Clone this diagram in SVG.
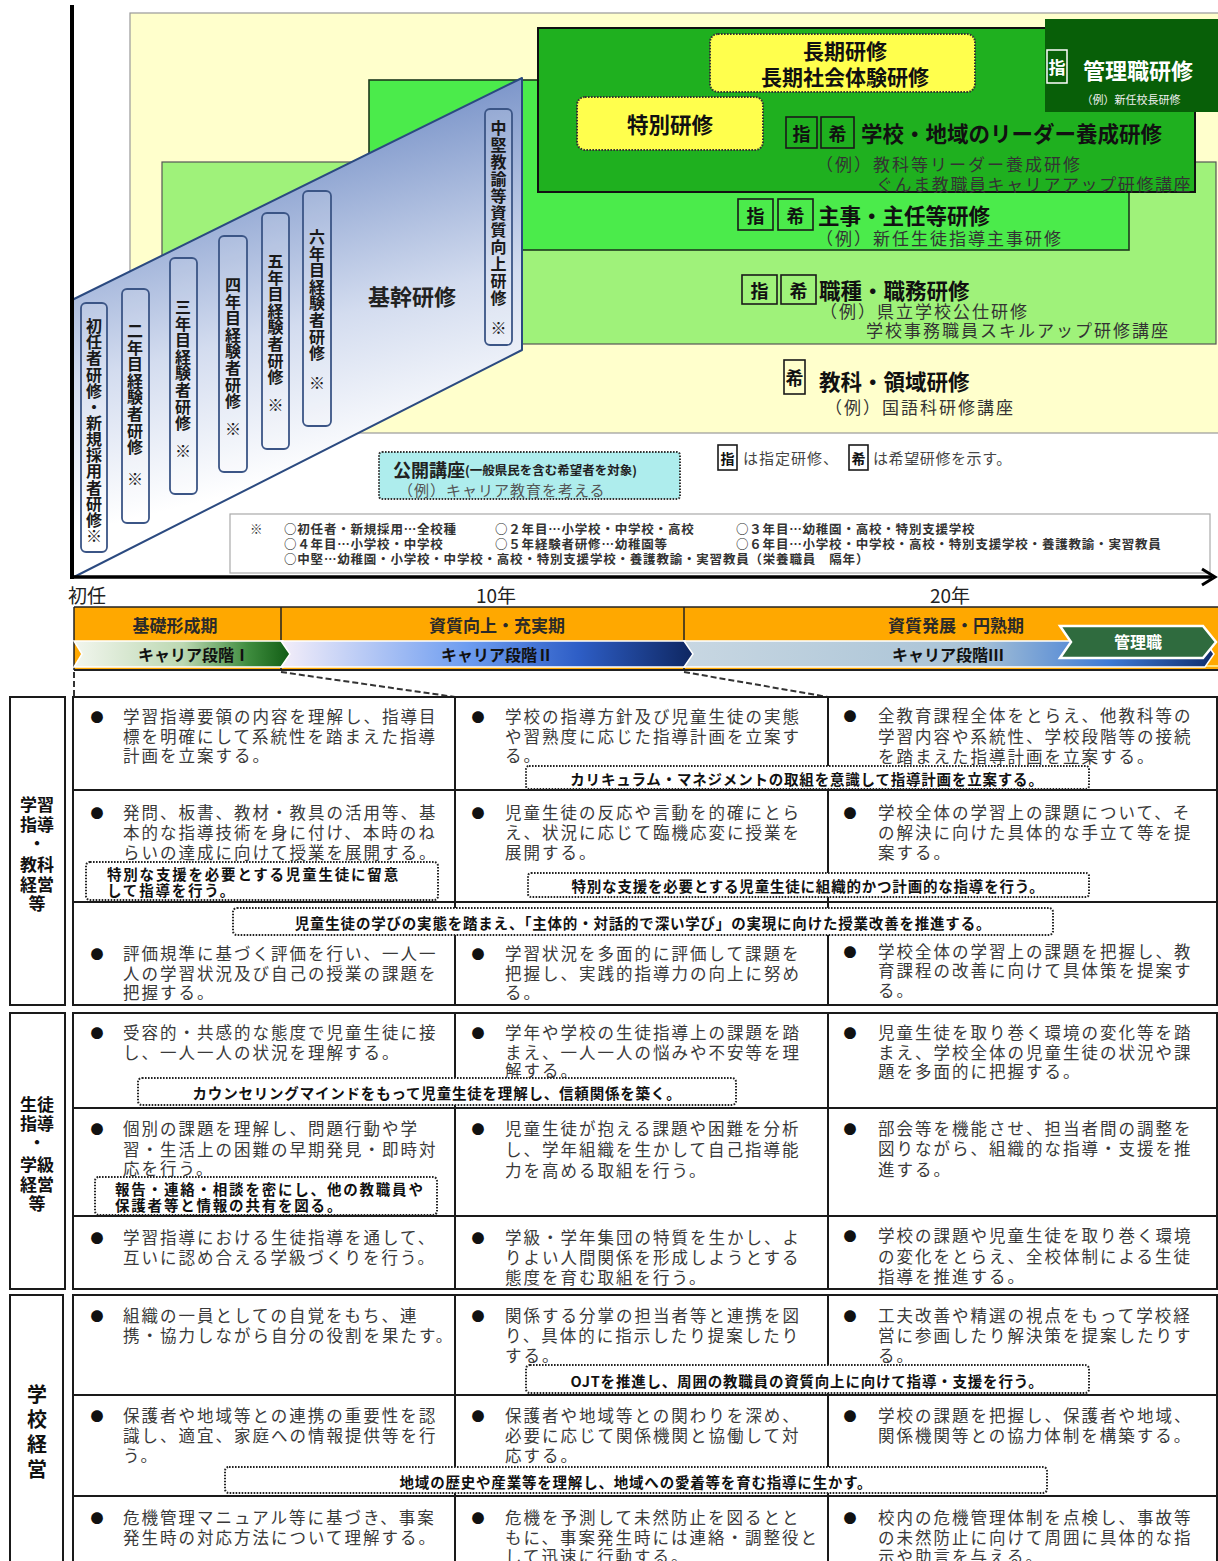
<svg xmlns="http://www.w3.org/2000/svg" width="1218" height="1561" viewBox="0 0 1218 1561">
<defs>
<style>
text{font-family:"Noto Sans CJK JP","Noto Sans CJK SC",sans-serif;dominant-baseline:central}
.hd{font-size:21.5px;font-weight:bold;fill:#111}
.ex{font-size:17px;fill:#333;letter-spacing:2px}
.tg{fill:none;stroke:#1a1a1a;stroke-width:1.6}
.tgt{font-size:18px;font-weight:bold;fill:#111;text-anchor:middle}
.vb{fill:#fff;fill-opacity:0.12;stroke:#3B5586;stroke-width:1.8}
.vt{font-size:16px;font-weight:bold;fill:#1a1a1a;text-anchor:middle}
.bd{font-size:16.5px;fill:#3a3a3a;letter-spacing:2px}
.bl{font-size:13px;fill:#111;text-anchor:middle}
.co{fill:#fff;stroke:#222;stroke-width:2;stroke-dasharray:1.6 1.4}
.ct{font-size:14.5px;font-weight:bold;fill:#111;text-anchor:middle;letter-spacing:0.8px}
.ct2{font-size:14.5px;font-weight:bold;fill:#111;letter-spacing:1.8px}
.ln{stroke:#1a1a1a;stroke-width:2;fill:none}
.lab{font-size:17px;font-weight:bold;fill:#111;text-anchor:middle}
.lg{font-size:12.5px;font-weight:bold;fill:#333;letter-spacing:0.8px}
.ph{font-size:17px;font-weight:bold;fill:#2a2a2a;text-anchor:middle}
.cv{stroke:#fff;stroke-width:1.5}
.cvt{font-size:16px;font-weight:bold;fill:#111;text-anchor:middle}
.ax{font-size:19px;fill:#222}
.dash{stroke:#333;stroke-width:2;stroke-dasharray:6 3;fill:none}
</style>
<linearGradient id="pg" gradientUnits="userSpaceOnUse" x1="250" y1="150" x2="330" y2="470">
<stop offset="0" stop-color="#7F98CB"/><stop offset="0.55" stop-color="#D3DCEF"/><stop offset="1" stop-color="#FFFFFF"/>
</linearGradient>
<linearGradient id="g1" x1="0" y1="0" x2="1" y2="0">
<stop offset="0" stop-color="#F2F6EE"/><stop offset="0.5" stop-color="#BCD8B2"/><stop offset="0.8" stop-color="#3E8C3E"/><stop offset="1" stop-color="#0F5A12"/>
</linearGradient>
<linearGradient id="g2" x1="0" y1="0" x2="1" y2="0">
<stop offset="0" stop-color="#F4EEF9"/><stop offset="0.45" stop-color="#6E9DF0"/><stop offset="0.72" stop-color="#2E5EC6"/><stop offset="1" stop-color="#0E2660"/>
</linearGradient>
<linearGradient id="g3" x1="0" y1="0" x2="1" y2="0">
<stop offset="0" stop-color="#C8D7E2"/><stop offset="0.55" stop-color="#A9C3D6"/><stop offset="0.8" stop-color="#3F7BD6"/><stop offset="1" stop-color="#102E6E"/>
</linearGradient>
</defs>

<rect width="1218" height="1561" fill="#fff"/>

<g id="area-kyoka">
<rect x="130" y="13" width="1090" height="420" fill="#FFFFCC" stroke="#999" stroke-width="1.2"/>
</g>
<g id="area-shokushu">
<rect x="162" y="162" width="1054" height="182" fill="#9FF27A" stroke="#555" stroke-width="1.2"/>
</g>
<g id="area-shuji">
<rect x="369" y="80" width="760" height="170" fill="#4BEB4B" stroke="#1d3a1d" stroke-width="1.6"/>
</g>
<g id="area-leader">
<rect x="538" y="28" width="657" height="164" fill="#1FB01F" stroke="#111" stroke-width="2"/>
</g>
<g id="area-kanri">
<rect x="1045" y="19" width="175" height="93" fill="#085F08"/>
<rect x="1047" y="50" width="20" height="33" fill="none" stroke="#fff" stroke-width="1.5"/>
<text x="1057" y="66.5" style="font-size:17px;font-weight:bold;fill:#fff;text-anchor:middle">指</text>
<text x="1083" y="69" style="font-size:22px;font-weight:bold;fill:#fff">管理職研修</text>
<text x="1131" y="99" style="font-size:11px;fill:#f0f0f0;text-anchor:middle">（例）新任校長研修</text>
</g>

<g id="node-choki">
<rect x="710" y="34" width="265" height="58" rx="8" fill="#FFFF4D" stroke="#333" stroke-width="2" stroke-dasharray="1.6 1.4"/>
<text x="845" y="50" style="font-size:21px;font-weight:bold;fill:#111;text-anchor:middle">長期研修</text>
<text x="845" y="76" style="font-size:21px;font-weight:bold;fill:#111;text-anchor:middle">長期社会体験研修</text>
</g>
<g id="node-tokubetsu">
<rect x="577" y="97" width="186" height="53" rx="8" fill="#FFFF4D" stroke="#333" stroke-width="2" stroke-dasharray="1.6 1.4"/>
<text x="670" y="123" style="font-size:21.5px;font-weight:bold;fill:#111;text-anchor:middle">特別研修</text>
</g>

<g id="node-leader-text">
<rect class="tg" x="786" y="117" width="31" height="31"/>
<rect class="tg" x="821" y="117" width="33" height="31"/>
<text class="tgt" x="801.5" y="132.5">指</text>
<text class="tgt" x="837.5" y="132.5">希</text>
<text class="hd" x="861" y="132">学校・地域のリーダー養成研修</text>
<text class="ex" x="816" y="163">（例）教科等リーダー養成研修</text>
<text class="ex" x="876" y="183" style="letter-spacing:1.6px">ぐんま教職員キャリアアップ研修講座</text>
</g>
<g id="node-shuji-text">
<rect class="tg" x="738" y="199" width="35" height="31"/>
<rect class="tg" x="778" y="199" width="35" height="31"/>
<text class="tgt" x="755.5" y="214.5">指</text>
<text class="tgt" x="795.5" y="214.5">希</text>
<text class="hd" x="818" y="214">主事・主任等研修</text>
<text class="ex" x="816" y="237">（例）新任生徒指導主事研修</text>
</g>
<g id="node-shokushu-text">
<rect class="tg" x="742" y="275" width="35" height="29"/>
<rect class="tg" x="781" y="275" width="35" height="29"/>
<text class="tgt" x="759.5" y="289.5">指</text>
<text class="tgt" x="798.5" y="289.5">希</text>
<text class="hd" x="819" y="289">職種・職務研修</text>
<text class="ex" x="820" y="310">（例）県立学校公仕研修</text>
<text class="ex" x="866" y="329">学校事務職員スキルアップ研修講座</text>
</g>
<g id="node-kyoka-text">
<rect class="tg" x="784" y="360" width="21" height="34"/>
<text class="tgt" x="794.5" y="377">希</text>
<text class="hd" x="819" y="380">教科・領域研修</text>
<text class="ex" x="825" y="406">（例）国語科研修講座</text>
</g>

<g id="node-kikan">
<path d="M72,300 L522,78 L522,350 L72,578 Z" fill="url(#pg)" stroke="#2B4A80" stroke-width="2" stroke-linejoin="round"/>
<text x="412" y="295" style="font-size:22px;font-weight:bold;fill:#222;text-anchor:middle">基幹研修</text>
</g>
<g id="node-v1">
<rect class="vb" x="81" y="303" width="26" height="249" rx="5"/>
<text class="vt" x="94 94 94 94 94 94 94 94 94 94 94 94 94 94" y="325 341 357 374 390 406 422 438 454 470 487 503 519 535">初任者研修・新規採用者研修※</text>
</g>
<g id="node-v2">
<rect class="vb" x="122" y="289" width="27" height="234" rx="5"/>
<text class="vt" x="135 135 135 135 135 135 135 135 135" y="330 347 363 380 396 413 430 446 478">二年目経験者研修※</text>
</g>
<g id="node-v3">
<rect class="vb" x="170" y="258" width="27" height="236" rx="5"/>
<text class="vt" x="183 183 183 183 183 183 183 183 183" y="306 323 339 356 372 389 406 422 450">三年目経験者研修※</text>
</g>
<g id="node-v4">
<rect class="vb" x="219" y="236" width="28" height="236" rx="5"/>
<text class="vt" x="233 233 233 233 233 233 233 233 233" y="284 301 317 334 350 367 384 400 428">四年目経験者研修※</text>
</g>
<g id="node-v5">
<rect class="vb" x="262" y="213" width="27" height="236" rx="5"/>
<text class="vt" x="275.5 275.5 275.5 275.5 275.5 275.5 275.5 275.5 275.5" y="260 277 293 310 326 343 360 376 404">五年目経験者研修※</text>
</g>
<g id="node-v6">
<rect class="vb" x="303" y="191" width="28" height="235" rx="5"/>
<text class="vt" x="317 317 317 317 317 317 317 317 317" y="236 253 269 286 302 319 336 352 382">六年目経験者研修※</text>
</g>
<g id="node-v7">
<rect class="vb" x="485" y="109" width="27" height="236" rx="5"/>
<text class="vt" x="498.5 498.5 498.5 498.5 498.5 498.5 498.5 498.5 498.5 498.5 498.5 498.5" y="127 144 161 178 195 212 229 246 263 280 297 327">中堅教諭等資質向上研修※</text>
</g>

<g id="node-kokai">
<rect x="379" y="452" width="301" height="47" rx="3" fill="#AEEDED" stroke="#333" stroke-width="2" stroke-dasharray="1.6 1.4"/>
<text x="393" y="469" style="font-size:18px;font-weight:bold;fill:#222">公開講座<tspan style="font-size:12.5px">(一般県民を含む希望者を対象)</tspan></text>
<text x="398" y="489" style="font-size:15px;fill:#555;letter-spacing:1px">（例）キャリア教育を考える</text>
</g>

<g id="node-legend-tag">
<rect class="tg" x="718" y="445" width="19" height="25"/>
<text x="727.5" y="457.5" style="font-size:14px;font-weight:bold;fill:#111;text-anchor:middle">指</text>
<text x="743" y="457" style="font-size:15px;fill:#444;letter-spacing:1px">は指定研修、</text>
<rect class="tg" x="849" y="445" width="19" height="25"/>
<text x="858.5" y="457.5" style="font-size:14px;font-weight:bold;fill:#111;text-anchor:middle">希</text>
<text x="873" y="457" style="font-size:15px;fill:#444;letter-spacing:0.6px">は希望研修を示す。</text>
</g>

<g id="node-note">
<rect x="230" y="514" width="980" height="59" fill="#fff" stroke="#aaa" stroke-width="1.2"/>
<text class="lg" x="250" y="528">※</text>
<text class="lg" x="284" y="528">○初任者・新規採用…全校種</text>
<text class="lg" x="495" y="528">○２年目…小学校・中学校・高校</text>
<text class="lg" x="736" y="528">○３年目…幼稚園・高校・特別支援学校</text>
<text class="lg" x="284" y="543">○４年目…小学校・中学校</text>
<text class="lg" x="495" y="543">○５年経験者研修…幼稚園等</text>
<text class="lg" x="736" y="543">○６年目…小学校・中学校・高校・特別支援学校・養護教諭・実習教員</text>
<text class="lg" x="284" y="558">○中堅…幼稚園・小学校・中学校・高校・特別支援学校・養護教諭・実習教員（栄養職員　隔年）</text>
</g>

<g id="axes">
<line x1="72" y1="5" x2="72" y2="579" stroke="#000" stroke-width="4"/>
<line x1="72" y1="577" x2="1212" y2="577" stroke="#000" stroke-width="3.5"/>
<polyline points="1202,569 1215,577 1202,585" fill="none" stroke="#000" stroke-width="3"/>
<text class="ax" x="68" y="594">初任</text>
<text class="ax" x="496" y="594" text-anchor="middle">10年</text>
<text class="ax" x="950" y="594" text-anchor="middle">20年</text>
</g>

<g id="timeline">
<rect x="74" y="607" width="1146" height="63" fill="#FFA800"/>
<line x1="74" y1="666" x2="1218" y2="666" stroke="#FFE27A" stroke-width="2"/>
<line x1="74" y1="607" x2="1218" y2="607" stroke="#222" stroke-width="1.5"/>
<line x1="74" y1="670" x2="1218" y2="670" stroke="#222" stroke-width="2"/>
<line x1="74" y1="607" x2="74" y2="670" stroke="#222" stroke-width="1.5"/>
<line x1="281" y1="607" x2="281" y2="670" stroke="#222" stroke-width="1.5"/>
<line x1="684" y1="607" x2="684" y2="670" stroke="#222" stroke-width="1.5"/>
<text class="ph" x="175" y="624">基礎形成期</text>
<text class="ph" x="497" y="624">資質向上・充実期</text>
<text class="ph" x="956" y="624">資質発展・円熟期</text>
</g>
<g id="node-stage1">
<polygon class="cv" points="74,641 283,641 292,654 283,667 74,667 82,654" fill="url(#g1)"/>
<text class="cvt" x="194" y="654">キャリア段階Ⅰ</text>
</g>
<g id="node-stage2">
<polygon class="cv" points="281,641 685,641 694,654 685,667 281,667 290,654" fill="url(#g2)"/>
<text class="cvt" x="497" y="654">キャリア段階Ⅱ</text>
</g>
<g id="node-stage3">
<polygon class="cv" points="684,641 1205,641 1214,654 1205,667 684,667 693,654" fill="url(#g3)"/>
<text class="cvt" x="948" y="654">キャリア段階Ⅲ</text>
</g>
<g id="node-kanrishoku">
<polygon points="1060,626 1203,626 1216,642 1203,658 1060,658 1071,642" fill="#2F6B3E" stroke="#fff" stroke-width="2.5"/>
<text x="1138" y="641" style="font-size:16px;font-weight:bold;fill:#fff;text-anchor:middle">管理職</text>
</g>

<g id="connectors">
<line class="dash" x1="74" y1="672" x2="74" y2="697"/>
<line class="dash" x1="281" y1="672" x2="455" y2="697"/>
<line class="dash" x1="684" y1="672" x2="828" y2="697"/>
</g>

<g id="sec1">
<rect class="ln" x="10" y="697" width="55" height="308"/>
<text class="lab" x="37" y="803">学習</text>
<text class="lab" x="37" y="823">指導</text>
<text class="lab" x="37" y="842">・</text>
<text class="lab" x="37" y="863">教科</text>
<text class="lab" x="37" y="883">経営</text>
<text class="lab" x="37" y="902">等</text>
<rect class="ln" x="73" y="697" width="1144" height="308"/>
<line class="ln" x1="73" y1="790" x2="1217" y2="790"/>
<line class="ln" x1="73" y1="902" x2="1217" y2="902"/>
<line class="ln" x1="455" y1="697" x2="455" y2="1005"/>
<line class="ln" x1="828" y1="697" x2="828" y2="1005"/>

<text class="bl" x="97" y="716">●</text>
<text class="bd"><tspan x="123" y="716">学習指導要領の内容を理解し、指導目</tspan><tspan x="123" y="736">標を明確にして系統性を踏まえた指導</tspan><tspan x="123" y="755">計画を立案する。</tspan></text>
<text class="bl" x="478" y="716">●</text>
<text class="bd"><tspan x="505" y="716">学校の指導方針及び児童生徒の実態</tspan><tspan x="505" y="736">や習熟度に応じた指導計画を立案す</tspan><tspan x="505" y="755">る。</tspan></text>
<text class="bl" x="850" y="715">●</text>
<text class="bd"><tspan x="878" y="715">全教育課程全体をとらえ、他教科等の</tspan><tspan x="878" y="736">学習内容や系統性、学校段階等の接続</tspan><tspan x="878" y="756">を踏まえた指導計画を立案する。</tspan></text>

<text class="bl" x="97" y="812">●</text>
<text class="bd"><tspan x="123" y="812">発問、板書、教材・教具の活用等、基</tspan><tspan x="123" y="832">本的な指導技術を身に付け、本時のね</tspan><tspan x="123" y="852">らいの達成に向けて授業を展開する。</tspan></text>
<text class="bl" x="478" y="812">●</text>
<text class="bd"><tspan x="505" y="812">児童生徒の反応や言動を的確にとら</tspan><tspan x="505" y="832">え、状況に応じて臨機応変に授業を</tspan><tspan x="505" y="852">展開する。</tspan></text>
<text class="bl" x="850" y="812">●</text>
<text class="bd"><tspan x="878" y="812">学校全体の学習上の課題について、そ</tspan><tspan x="878" y="832">の解決に向けた具体的な手立て等を提</tspan><tspan x="878" y="852">案する。</tspan></text>

<text class="bl" x="97" y="953">●</text>
<text class="bd"><tspan x="123" y="953">評価規準に基づく評価を行い、一人一</tspan><tspan x="123" y="973">人の学習状況及び自己の授業の課題を</tspan><tspan x="123" y="992">把握する。</tspan></text>
<text class="bl" x="478" y="953">●</text>
<text class="bd"><tspan x="505" y="953">学習状況を多面的に評価して課題を</tspan><tspan x="505" y="973">把握し、実践的指導力の向上に努め</tspan><tspan x="505" y="992">る。</tspan></text>
<text class="bl" x="850" y="951">●</text>
<text class="bd"><tspan x="878" y="951">学校全体の学習上の課題を把握し、教</tspan><tspan x="878" y="970">育課程の改善に向けて具体策を提案す</tspan><tspan x="878" y="990">る。</tspan></text>
</g>
<g id="callouts1">
<rect class="co" x="526" y="766" width="563" height="23" rx="3"/>
<text class="ct" x="807" y="778">カリキュラム・マネジメントの取組を意識して指導計画を立案する。</text>
<rect class="co" x="86" y="862" width="352" height="38" rx="4"/>
<text class="ct2"><tspan x="107" y="873">特別な支援を必要とする児童生徒に留意</tspan><tspan x="107" y="889">して指導を行う。</tspan></text>
<rect class="co" x="528" y="873" width="561" height="24" rx="3"/>
<text class="ct" x="808" y="885">特別な支援を必要とする児童生徒に組織的かつ計画的な指導を行う。</text>
<rect class="co" x="233" y="908" width="820" height="27" rx="4"/>
<text class="ct" x="643" y="922">児童生徒の学びの実態を踏まえ、「主体的・対話的で深い学び」の実現に向けた授業改善を推進する。</text>
</g>

<g id="sec2">
<rect class="ln" x="10" y="1013" width="55" height="276"/>
<text class="lab" x="37" y="1103">生徒</text>
<text class="lab" x="37" y="1122">指導</text>
<text class="lab" x="37" y="1141">・</text>
<text class="lab" x="37" y="1163">学級</text>
<text class="lab" x="37" y="1183">経営</text>
<text class="lab" x="37" y="1202">等</text>
<rect class="ln" x="73" y="1013" width="1144" height="276"/>
<line class="ln" x1="73" y1="1108" x2="1217" y2="1108"/>
<line class="ln" x1="73" y1="1216" x2="1217" y2="1216"/>
<line class="ln" x1="455" y1="1013" x2="455" y2="1289"/>
<line class="ln" x1="828" y1="1013" x2="828" y2="1289"/>

<text class="bl" x="97" y="1032">●</text>
<text class="bd"><tspan x="123" y="1032">受容的・共感的な態度で児童生徒に接</tspan><tspan x="123" y="1052">し、一人一人の状況を理解する。</tspan></text>
<text class="bl" x="478" y="1032">●</text>
<text class="bd"><tspan x="505" y="1032">学年や学校の生徒指導上の課題を踏</tspan><tspan x="505" y="1052">まえ、一人一人の悩みや不安等を理</tspan><tspan x="505" y="1070">解する。</tspan></text>
<text class="bl" x="850" y="1032">●</text>
<text class="bd"><tspan x="878" y="1032">児童生徒を取り巻く環境の変化等を踏</tspan><tspan x="878" y="1052">まえ、学校全体の児童生徒の状況や課</tspan><tspan x="878" y="1071">題を多面的に把握する。</tspan></text>

<text class="bl" x="97" y="1128">●</text>
<text class="bd"><tspan x="123" y="1128">個別の課題を理解し、問題行動や学</tspan><tspan x="123" y="1149">習・生活上の困難の早期発見・即時対</tspan><tspan x="123" y="1168">応を行う。</tspan></text>
<text class="bl" x="478" y="1128">●</text>
<text class="bd"><tspan x="505" y="1128">児童生徒が抱える課題や困難を分析</tspan><tspan x="505" y="1149">し、学年組織を生かして自己指導能</tspan><tspan x="505" y="1170">力を高める取組を行う。</tspan></text>
<text class="bl" x="850" y="1128">●</text>
<text class="bd"><tspan x="878" y="1128">部会等を機能させ、担当者間の調整を</tspan><tspan x="878" y="1148">図りながら、組織的な指導・支援を推</tspan><tspan x="878" y="1169">進する。</tspan></text>

<text class="bl" x="97" y="1237">●</text>
<text class="bd"><tspan x="123" y="1237">学習指導における生徒指導を通して、</tspan><tspan x="123" y="1257">互いに認め合える学級づくりを行う。</tspan></text>
<text class="bl" x="478" y="1237">●</text>
<text class="bd"><tspan x="505" y="1237">学級・学年集団の特質を生かし、よ</tspan><tspan x="505" y="1257">りよい人間関係を形成しようとする</tspan><tspan x="505" y="1277">態度を育む取組を行う。</tspan></text>
<text class="bl" x="850" y="1235">●</text>
<text class="bd"><tspan x="878" y="1235">学校の課題や児童生徒を取り巻く環境</tspan><tspan x="878" y="1256">の変化をとらえ、全校体制による生徒</tspan><tspan x="878" y="1276">指導を推進する。</tspan></text>
</g>
<g id="callouts2">
<rect class="co" x="138" y="1078" width="598" height="27" rx="4"/>
<text class="ct" x="437" y="1092">カウンセリングマインドをもって児童生徒を理解し、信頼関係を築く。</text>
<rect class="co" x="95" y="1177" width="342" height="38" rx="4"/>
<text class="ct2"><tspan x="115" y="1188">報告・連絡・相談を密にし、他の教職員や</tspan><tspan x="115" y="1204">保護者等と情報の共有を図る。</tspan></text>
</g>

<g id="sec3">
<rect class="ln" x="10" y="1295" width="53" height="280"/>
<text x="37" y="1393" style="font-size:20px;font-weight:bold;fill:#111;text-anchor:middle">学</text>
<text x="37" y="1418" style="font-size:20px;font-weight:bold;fill:#111;text-anchor:middle">校</text>
<text x="37" y="1443" style="font-size:20px;font-weight:bold;fill:#111;text-anchor:middle">経</text>
<text x="37" y="1468" style="font-size:20px;font-weight:bold;fill:#111;text-anchor:middle">営</text>
<rect class="ln" x="73" y="1295" width="1144" height="280"/>
<line class="ln" x1="73" y1="1395" x2="1217" y2="1395"/>
<line class="ln" x1="73" y1="1496" x2="1217" y2="1496"/>
<line class="ln" x1="455" y1="1295" x2="455" y2="1561"/>
<line class="ln" x1="828" y1="1295" x2="828" y2="1561"/>

<text class="bl" x="97" y="1315">●</text>
<text class="bd"><tspan x="123" y="1315">組織の一員としての自覚をもち、連</tspan><tspan x="123" y="1335">携・協力しながら自分の役割を果たす。</tspan></text>
<text class="bl" x="478" y="1315">●</text>
<text class="bd"><tspan x="505" y="1315">関係する分掌の担当者等と連携を図</tspan><tspan x="505" y="1335">り、具体的に指示したり提案したり</tspan><tspan x="505" y="1355">する。</tspan></text>
<text class="bl" x="850" y="1315">●</text>
<text class="bd"><tspan x="878" y="1315">工夫改善や精選の視点をもって学校経</tspan><tspan x="878" y="1335">営に参画したり解決策を提案したりす</tspan><tspan x="878" y="1355">る。</tspan></text>

<text class="bl" x="97" y="1415">●</text>
<text class="bd"><tspan x="123" y="1415">保護者や地域等との連携の重要性を認</tspan><tspan x="123" y="1435">識し、適宜、家庭への情報提供等を行</tspan><tspan x="123" y="1455">う。</tspan></text>
<text class="bl" x="478" y="1415">●</text>
<text class="bd"><tspan x="505" y="1415">保護者や地域等との関わりを深め、</tspan><tspan x="505" y="1435">必要に応じて関係機関と協働して対</tspan><tspan x="505" y="1455">応する。</tspan></text>
<text class="bl" x="850" y="1415">●</text>
<text class="bd"><tspan x="878" y="1415">学校の課題を把握し、保護者や地域、</tspan><tspan x="878" y="1435">関係機関等との協力体制を構築する。</tspan></text>

<text class="bl" x="97" y="1517">●</text>
<text class="bd"><tspan x="123" y="1517">危機管理マニュアル等に基づき、事案</tspan><tspan x="123" y="1537">発生時の対応方法について理解する。</tspan></text>
<text class="bl" x="478" y="1517">●</text>
<text class="bd"><tspan x="505" y="1517">危機を予測して未然防止を図るとと</tspan><tspan x="505" y="1537">もに、事案発生時には連絡・調整役と</tspan><tspan x="505" y="1556">して迅速に行動する。</tspan></text>
<text class="bl" x="850" y="1517">●</text>
<text class="bd"><tspan x="878" y="1517">校内の危機管理体制を点検し、事故等</tspan><tspan x="878" y="1537">の未然防止に向けて周囲に具体的な指</tspan><tspan x="878" y="1556">示や助言を与える。</tspan></text>
</g>
<g id="callouts3">
<rect class="co" x="526" y="1365" width="563" height="28" rx="4"/>
<text class="ct" x="807" y="1380">OJTを推進し、周囲の教職員の資質向上に向けて指導・支援を行う。</text>
<rect class="co" x="225" y="1467" width="822" height="26" rx="4"/>
<text class="ct" x="636" y="1481">地域の歴史や産業等を理解し、地域への愛着等を育む指導に生かす。</text>
</g>
</svg>
